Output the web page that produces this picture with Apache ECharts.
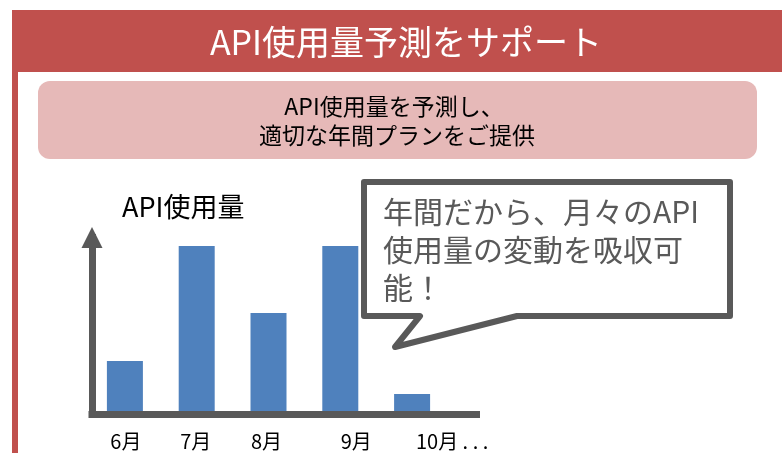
<!DOCTYPE html>
<html>
<head>
<meta charset="utf-8">
<script src="https://cdn.jsdelivr.net/npm/echarts@6/dist/echarts.min.js"></script>
<style>
  html, body { margin: 0; padding: 0; background: #ffffff; }
  #chart { width: 782px; height: 453px; }
</style>
</head>
<body>
<div id="chart"></div>
<script>
// Monthly API usage (relative units)
const months = ['6月', '7月', '8月', '9月', '10月 . . .'];
const usage = [50, 165, 98, 165, 17];

// Headings and captions
const headerText = 'API使用量予測をサポート';
const bannerLines = ['API使用量を予測し、', '適切な年間プランをご提供'];
const axisTitle = 'API使用量';
const calloutLines = ['年間だから、月々のAPI', '使用量の変動を吸収可', '能！'];

const FONT = '"Noto Sans CJK JP", "Noto Sans", sans-serif';
const RED = '#c0504d';
const PINK = '#e6b9b8';
const BLUE = '#4f81bd';
const GRAY = '#595959';

// horizontal nudges (padding) for month labels
const labelPad = [2, -2, -4, 32, 80];
const monthItems = months.map(function (m, i) {
  const p = labelPad[i];
  return {
    value: m,
    textStyle: { padding: p >= 0 ? [0, 0, 0, p] : [0, -p, 0, 0] }
  };
});

const chart = echarts.init(document.getElementById('chart'), null, { renderer: 'canvas' });

chart.setOption({
  animation: false,
  backgroundColor: '#ffffff',
  grid: [
    { left: 89, top: 231, width: 359, height: 180 },          // bars
    { left: 92, top: 237.5, width: 384.5, height: 177 }       // axis frame
  ],
  xAxis: [
    {
      type: 'category', gridIndex: 0, data: monthItems,
      axisLine: { show: false }, axisTick: { show: false },
      axisLabel: {
        interval: 0, hideOverlap: false,
        margin: 20, fontSize: 20, fontFamily: FONT, color: '#000'
      }
    },
    {
      type: 'value', gridIndex: 1, min: 0, max: 1,
      axisLine: { show: true, lineStyle: { color: GRAY, width: 7, cap: 'square' } },
      axisTick: { show: false }, axisLabel: { show: false }, splitLine: { show: false }
    }
  ],
  yAxis: [
    {
      type: 'value', gridIndex: 0, min: 0, max: 180, show: false
    },
    {
      type: 'value', gridIndex: 1, min: 0, max: 1,
      axisLine: {
        show: true, symbol: ['none', 'triangle'], symbolSize: [21, 21],
        lineStyle: { color: GRAY, width: 7, cap: 'square' }
      },
      axisTick: { show: false }, axisLabel: { show: false }, splitLine: { show: false }
    }
  ],
  series: [
    {
      type: 'bar', xAxisIndex: 0, yAxisIndex: 0,
      data: usage, barWidth: 36,
      itemStyle: { color: BLUE }, z: 5
    }
  ],
  graphic: [
    // header band and left rule
    { type: 'rect', shape: { x: 12, y: 10, width: 770, height: 62 }, style: { fill: RED }, z: 1 },
    { type: 'rect', shape: { x: 12, y: 10, width: 6, height: 443 }, style: { fill: RED }, z: 1 },
    {
      type: 'text', x: 406, y: 42, z: 2,
      style: { text: headerText, fill: '#ffffff', font: '34px ' + FONT, textAlign: 'center', textVerticalAlign: 'middle' }
    },
    // banner
    { type: 'rect', shape: { x: 38, y: 81, width: 719, height: 78, r: 12 }, style: { fill: PINK }, z: 1 },
    {
      type: 'text', x: 394, y: 106, z: 2,
      style: { text: bannerLines[0], fill: '#000', font: '23px ' + FONT, textAlign: 'center', textVerticalAlign: 'middle' }
    },
    {
      type: 'text', x: 397, y: 135, z: 2,
      style: { text: bannerLines[1], fill: '#000', font: '23px ' + FONT, textAlign: 'center', textVerticalAlign: 'middle' }
    },
    // axis title
    {
      type: 'text', x: 122, y: 207, z: 2,
      style: { text: axisTitle, fill: '#000', font: '27px ' + FONT, textAlign: 'left', textVerticalAlign: 'middle' }
    },
    // speech bubble
    {
      type: 'polygon', z: 50,
      shape: { points: [[364, 182], [730, 182], [730, 316], [517, 316], [395, 347], [420, 316], [364, 316]] },
      style: { fill: '#ffffff', stroke: GRAY, lineWidth: 6, lineJoin: 'round' }
    },
    {
      type: 'text', x: 383, y: 193, z: 51,
      style: {
        text: calloutLines.join('\n'), fill: GRAY, font: '30px ' + FONT,
        lineHeight: 38, textAlign: 'left', textVerticalAlign: 'top'
      }
    }
  ]
});
</script>
</body>
</html>
